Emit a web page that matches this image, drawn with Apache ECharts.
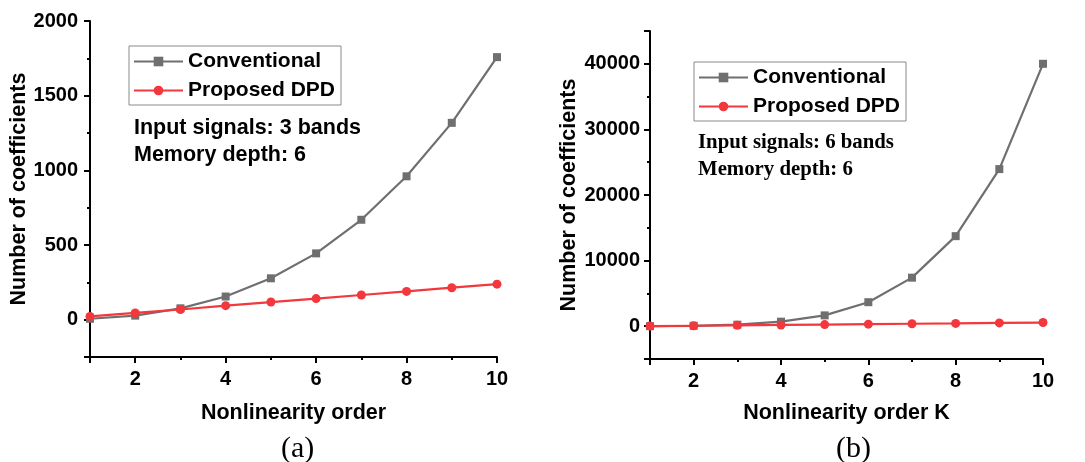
<!DOCTYPE html>
<html>
<head>
<meta charset="utf-8">
<script src="https://cdn.jsdelivr.net/npm/echarts@6/dist/echarts.min.js"></script>
<style>html,body{margin:0;padding:0;background:#fff;}#c{width:1085px;height:462px;}</style>
</head>
<body>
<div id="c"></div>
<script>
// ---- data ----
var orders = [1, 2, 3, 4, 5, 6, 7, 8, 9, 10];
var convA = [6, 27, 76, 155, 277, 444, 669, 960, 1318, 1758];
var propA = [22, 45, 68, 94, 118, 141, 165, 189, 214, 238];
var convB = [6, 60, 230, 690, 1650, 3660, 7400, 13725, 23950, 40000];
var propB = [15, 70, 130, 190, 250, 310, 370, 430, 500, 560];
var seriesNames = ['Conventional', 'Proposed DPD'];
var noteA = ['Input signals: 3 bands', 'Memory depth: 6'];
var noteB = ['Input signals: 6 bands', 'Memory depth: 6'];

function pairs(xs, ys) { return xs.map(function (x, i) { return [x, ys[i]]; }); }

var GRAY = '#6f6f6f', RED = '#f2383c';
var SANS = '"Liberation Sans", Arial, sans-serif';
var SERIF = '"Liberation Serif", "Times New Roman", serif';

function plain(v) { return String(v); }

function xAx(idx, name, gap) {
  return {
    type: 'value', gridIndex: idx, min: 1, max: 10,
    name: name, nameLocation: 'middle', nameGap: gap,
    nameTextStyle: { fontFamily: SANS, fontWeight: 'bold', fontSize: 21.5, color: '#000' },
    axisLine: { show: true, onZero: false, lineStyle: { color: '#000', width: 2 } },
    axisTick: { show: true, inside: false, length: 6, lineStyle: { color: '#000', width: 2 } },
    minorTick: { show: true, splitNumber: 2, length: 3, lineStyle: { color: '#000', width: 2 } },
    axisLabel: { showMinLabel: false, margin: 12, formatter: plain, fontFamily: SANS, fontWeight: 'bold', fontSize: 20, color: '#000' },
    splitLine: { show: false }
  };
}
function yAx(idx, min, max, gap, margin, hideMax) {
  return {
    type: 'value', gridIndex: idx, min: min, max: max,
    name: 'Number of coefficients', nameLocation: 'middle', nameGap: gap,
    nameTextStyle: { fontFamily: SANS, fontWeight: 'bold', fontSize: 21.5, color: '#000' },
    axisLine: { show: true, onZero: false, lineStyle: { color: '#000', width: 2 } },
    axisTick: { show: true, inside: false, length: 6, lineStyle: { color: '#000', width: 2 } },
    minorTick: { show: true, splitNumber: 2, length: 3, lineStyle: { color: '#000', width: 2 } },
    axisLabel: { showMinLabel: false, showMaxLabel: !hideMax, margin: margin, formatter: plain, fontFamily: SANS, fontWeight: 'bold', fontSize: 20, color: '#000' },
    splitLine: { show: false }
  };
}
function ser(name, idx, data, color, symbol) {
  return {
    name: name, type: 'line', xAxisIndex: idx, yAxisIndex: idx,
    data: data, symbol: symbol, symbolSize: symbol === 'rect' ? 8 : 9,
    lineStyle: { color: color, width: 2.2 }, itemStyle: { color: color },
    z: symbol === 'rect' ? 2 : 3, animation: false
  };
}
function legend(left, top) {
  return {
    data: seriesNames, orient: 'vertical', left: left, top: top,
    itemWidth: 49, itemHeight: 12, itemGap: 8,
    padding: [5, 6, 4, 4],
    borderColor: '#8a8a8a', borderWidth: 1,
    selectedMode: false,
    textStyle: { fontFamily: SANS, fontWeight: 'bold', fontSize: 21, color: '#000', padding: [0, 0, 0, 0] }
  };
}

var chart = echarts.init(document.getElementById('c'));
chart.setOption({
  animation: false,
  backgroundColor: '#fff',
  grid: [
    { left: 90, top: 21, width: 407, height: 336 },
    { left: 650, top: 31, width: 393, height: 328 }
  ],
  xAxis: [xAx(0, 'Nonlinearity order', 45), xAx(1, 'Nonlinearity order K', 43)],
  yAxis: [yAx(0, -250, 2000, 57, 12, false), yAx(1, -5000, 45000, 69, 10, true)],
  legend: [legend(129, 46), legend(694, 62)],
  title: [
    { text: noteA.join('\n'), left: 129, top: 110,
      textStyle: { fontFamily: SANS, fontWeight: 'bold', fontSize: 21.5, lineHeight: 27, color: '#000' } },
    { text: noteB.join('\n'), left: 693, top: 124,
      textStyle: { fontFamily: SERIF, fontWeight: 'bold', fontSize: 20.8, lineHeight: 27, color: '#000' } },
    { text: '(a)', left: 276, top: 429,
      textStyle: { fontFamily: SERIF, fontWeight: 'normal', fontSize: 30, color: '#000' } },
    { text: '(b)', left: 831, top: 429,
      textStyle: { fontFamily: SERIF, fontWeight: 'normal', fontSize: 30, color: '#000' } }
  ],
  series: [
    ser('Conventional', 0, pairs(orders, convA), GRAY, 'rect'),
    ser('Proposed DPD', 0, pairs(orders, propA), RED, 'circle'),
    ser('Conventional', 1, pairs(orders, convB), GRAY, 'rect'),
    ser('Proposed DPD', 1, pairs(orders, propB), RED, 'circle')
  ]
});
</script>
</body>
</html>
